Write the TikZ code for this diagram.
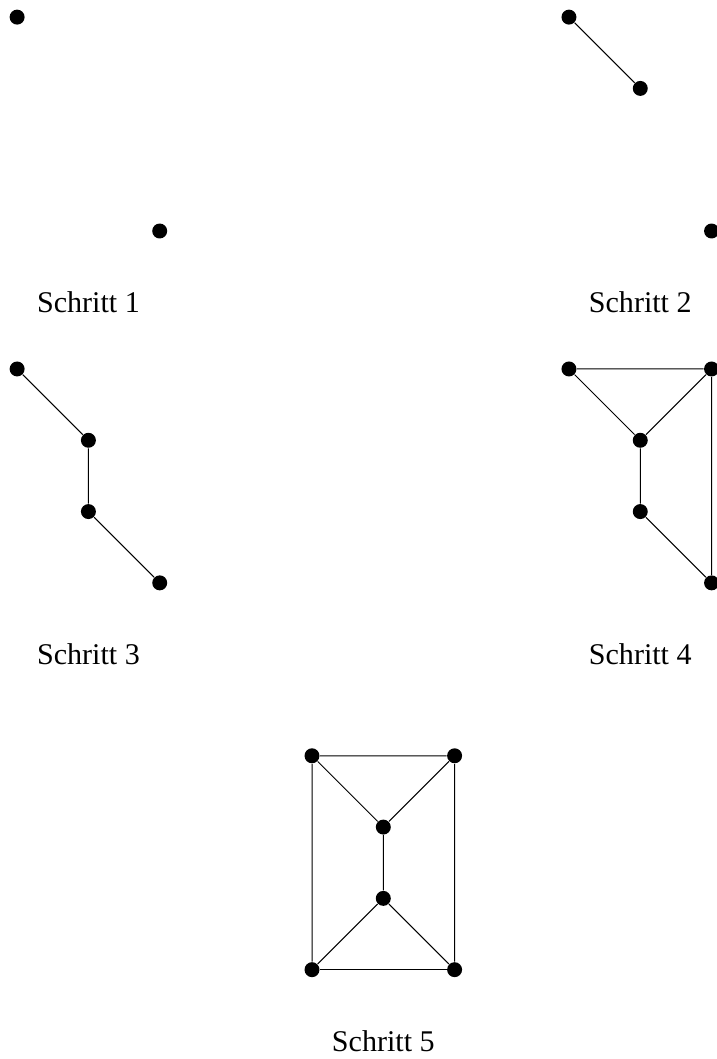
\documentclass[tikz,border=0pt]{standalone}
\usepackage{fontspec}
\setmainfont{Liberation Serif}
\usetikzlibrary{calc}
\tikzset{v/.style={circle,fill=black,inner sep=0pt,minimum size=2.1mm}}
\tikzset{lab/.style={font=\fontsize{12}{12}\selectfont}}

\begin{document}
\begin{tikzpicture}
  \useasboundingbox (0,0) rectangle (10.056,-14.853);
  \clip (0,0) rectangle (10.056,-14.853);
  % Schritt 1
  \begin{scope}[shift={(0.24,-0.24)}]
    \node[v] (a1) at (0,0) {};
    \node[v] (b1) at (2,-3) {};
    \node[lab] (s1) at (1,-4) {Schritt 1};
  \end{scope}
  % Schritt 2
  \begin{scope}[shift={(7.98,-0.24)}]
    \node[v] (a2) at (0,0) {};
    \node[v] (c2) at (1,-1) {};
    \node[v] (b2) at (2,-3) {};
    \draw (a2) -- (c2);
    \node[lab] (s2) at (1,-4) {Schritt 2};
  \end{scope}
  % Schritt 3
  \begin{scope}[shift={(0.24,-5.175)}]
    \node[v] (a3) at (0,0) {};
    \node[v] (c3) at (1,-1) {};
    \node[v] (d3) at (1,-2) {};
    \node[v] (b3) at (2,-3) {};
    \draw (a3) -- (c3) -- (d3) -- (b3);
    \node[lab] (s3) at (1,-4) {Schritt 3};
  \end{scope}
  % Schritt 4
  \begin{scope}[shift={(7.98,-5.175)}]
    \node[v] (a4) at (0,0) {};
    \node[v] (e4) at (2,0) {};
    \node[v] (c4) at (1,-1) {};
    \node[v] (d4) at (1,-2) {};
    \node[v] (b4) at (2,-3) {};
    \draw (a4) -- (c4) -- (d4) -- (b4) -- (e4) -- (a4);
    \draw (c4) -- (e4);
    \node[lab] (s4) at (1,-4) {Schritt 4};
  \end{scope}
  % Schritt 5
  \begin{scope}[shift={(4.376,-10.6)}]
    \node[v] (a5) at (0,0) {};
    \node[v] (e5) at (2,0) {};
    \node[v] (c5) at (1,-1) {};
    \node[v] (d5) at (1,-2) {};
    \node[v] (f5) at (0,-3) {};
    \node[v] (b5) at (2,-3) {};
    \draw (a5) -- (c5) -- (d5) -- (b5) -- (e5) -- (a5);
    \draw (c5) -- (e5);
    \draw (d5) -- (f5) -- (a5);
    \draw (f5) -- (b5);
    \node[lab] (s5) at (1,-4) {Schritt 5};
  \end{scope}
\end{tikzpicture}
\end{document}
